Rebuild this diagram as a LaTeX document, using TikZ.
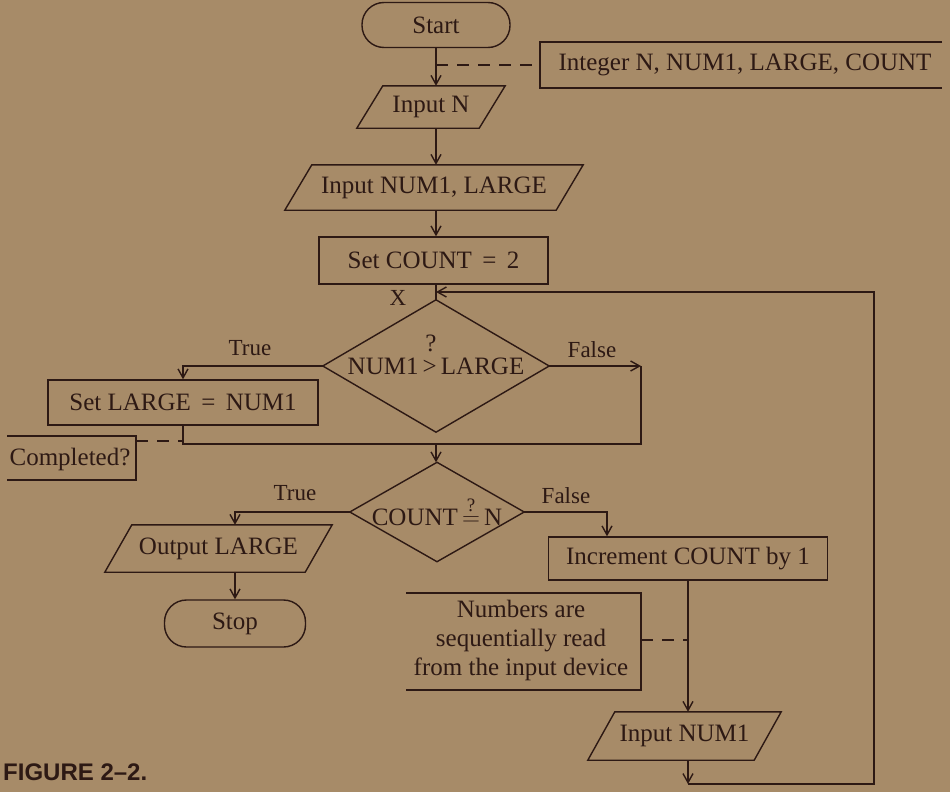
\documentclass[tikz,border=0pt]{standalone}
\usepackage{fontspec}
\setmainfont{Liberation Serif}
\newfontfamily\capfont{Liberation Sans}
\usetikzlibrary{arrows.meta}
\definecolor{bg}{RGB}{167,139,104}
\definecolor{ink}{RGB}{45,25,20}
\begin{document}
\begin{tikzpicture}[x=1pt,y=-1pt,
  every node/.style={text=ink, font=\fontsize{25}{29}\selectfont},
  plain/.style={inner sep=0pt, draw=none},
  box/.style={plain, draw=ink, line width=1.4pt},
  term/.style={box, rounded corners=22pt},
  line/.style={draw=ink, line width=1.4pt},
  flow/.style={line, -{Straight Barb[length=9pt,width=10pt]}},
  ann/.style={line, dash pattern=on 12pt off 9pt},
  lbl/.style={inner sep=0pt, font=\fontsize{23}{27}\selectfont}
]
\useasboundingbox[fill=bg] (0,0) rectangle (950,792);

% nodes
\node[term, minimum width=148pt, minimum height=45pt] (start) at (436,25) {Start};
\node[plain, minimum width=148pt, minimum height=42pt] (inN) at (431,107) {Input N};
\node[plain, minimum width=298pt, minimum height=45pt] (inNL) at (434,187.5) {Input NUM1, LARGE};
\node[box, minimum width=229pt, minimum height=47pt] (setc) at (433.5,260.5) {Set COUNT \,=\, 2};
\node[plain, minimum width=226pt, minimum height=132pt] (d1) at (436,366) {NUM1\,>\,LARGE};
\node[plain] (q1) at (431,343) {?};
\node[box, minimum width=270pt, minimum height=45pt] (setL) at (183,402.5) {Set LARGE \,=\, NUM1};
\node[plain, minimum width=174pt, minimum height=99pt] (d2) at (437,512) {COUNT\,$\stackrel{\raisebox{3pt}{\fontsize{19}{19}\selectfont ?}}{=}$\,N};
\node[plain, minimum width=227pt, minimum height=47pt] (outL) at (218.5,548.5) {Output LARGE};
\node[term, minimum width=141pt, minimum height=47pt] (stop) at (235,623.5) {Stop};
\node[box, minimum width=279pt, minimum height=43pt] (incr) at (688,558.5) {Increment COUNT by 1};
\node[plain, minimum width=193pt, minimum height=48pt] (inNUM) at (684.5,736) {Input NUM1};

% parallelograms and diamonds
\foreach \n/\s in {inN/26,inNL/27,outL/27,inNUM/27}
  \draw[line] ([xshift=\s pt]\n.north west) -- (\n.north east) -- ([xshift=-\s pt]\n.south east) -- (\n.south west) -- cycle;
\foreach \n in {d1,d2}
  \draw[line] (\n.north) -- (\n.east) -- (\n.south) -- (\n.west) -- cycle;

% annotations
\node[plain] (decl) at (745,65) {Integer N, NUM1, LARGE, COUNT};
\draw[line] (942,42) -- (540,42) -- (540,88) -- (942,88);
\coordinate (dj) at (436,65);
\coordinate (dl) at (540,65);
\draw[ann] (dj) -- (dl);

\node[plain] (comp) at (70,459) {Completed?};
\draw[line] (7,436) -- (136,436) -- (136,480) -- (7,480);
\coordinate (cr) at (136,441);
\coordinate (cj) at (183,441);
\draw[ann] (cr) -- (cj);

\node[plain, align=center] (numb) at (521,640) {Numbers are\\sequentially read\\from the input device};
\draw[line] (406,593) -- (641,593) -- (641,690) -- (406,690);
\coordinate (nr) at (641,640);
\coordinate (nj) at (688,640);
\draw[ann] (nr) -- (nj);

% labels
\node[lbl] (xl) at (398,298) {X};
\node[lbl] (t1) at (250,348) {True};
\node[lbl] (f1) at (592,350) {False};
\node[lbl] (t2) at (295,493) {True};
\node[lbl] (f2) at (566,496) {False};

% connectors
\coordinate (jx) at (436,292);
\draw[flow] (start.south) -- (start.south |- inN.north);
\draw[flow] (start.south |- inN.south) -- (start.south |- inNL.north);
\draw[flow] (start.south |- inNL.south) -- (start.south |- setc.north);
\draw[line] (start.south |- setc.south) -- (d1.north);

\draw[flow] (d1.west) -| (setL.north);
\coordinate (fr) at (641,366);
\draw[flow] (d1.east) -- (fr);
\coordinate (bl) at (183,444);
\coordinate (br) at (641,444);
\draw[line] (setL.south) -- (bl) -- (br) -- (fr);
\draw[flow] (d1.south |- bl) -- (d1.south |- d2.north);

\coordinate (tl2) at (235,512);
\draw[flow] (d2.west) -- (tl2) -- (tl2 |- outL.north);
\draw[flow] (tl2 |- outL.south) -- (stop.north);
\coordinate (fr2) at (607,512);
\draw[flow] (d2.east) -- (fr2) -- (fr2 |- incr.north);
\draw[flow] (incr.south) -- (incr.south |- inNUM.north);
\coordinate (bb) at (688,784);
\coordinate (rb) at (874,784);
\coordinate (rt) at (874,292);
\draw[flow] (incr.south |- inNUM.south) -- (bb);
\draw[flow] (bb) -- (rb) -- (rt) -- (jx);

\node[anchor=west, inner sep=0pt, font=\capfont\bfseries\fontsize{24}{24}\selectfont] (fig) at (3,772) {FIGURE 2–2.};
\end{tikzpicture}
\end{document}
